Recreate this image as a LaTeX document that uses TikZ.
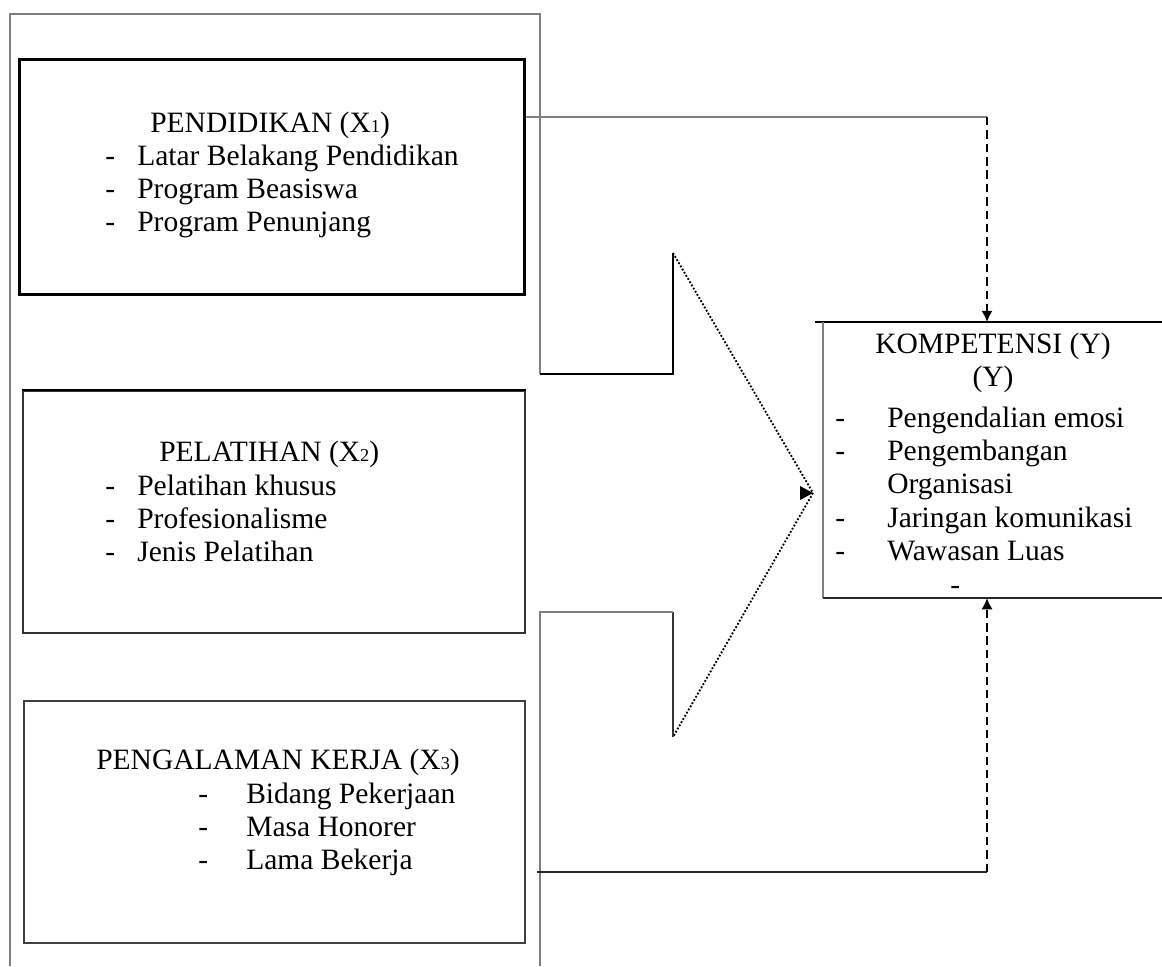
\documentclass[tikz,border=0pt]{standalone}
\usepackage{fontspec}
\setmainfont{Liberation Serif}
\usetikzlibrary{positioning,arrows.meta}

\newcommand{\varidx}[1]{{\fontsize{13}{13}\selectfont #1}}
\newcommand{\itemline}[2]{\makebox[#1][l]{-}#2}

\begin{document}
\begin{tikzpicture}[x=0.025cm, y=-0.025cm,
		box/.style={rectangle, draw=black!80, line width=1.4pt, anchor=north west, inner sep=0pt},
		title/.style={anchor=base west, inner sep=0pt, font=\fontsize{21}{23.8}\selectfont},
		items/.style={anchor=base west, inner sep=0pt, font=\fontsize{21}{23.8}\selectfont},
		frame/.style={draw=black!50, line width=1.1pt},
		link/.style={draw=black, line width=1.4pt, dash pattern=on 6pt off 3.5pt, -{Latex[length=8pt, width=8pt]}},
		dots/.style={draw=black, line width=1.3pt, dash pattern=on 1.3pt off 1.3pt}
]
\useasboundingbox (0,0) rectangle (1162,966);

% outer frame and the big arrow
\coordinate (uptop) at (673,253);
\coordinate (tip) at (813,493);
\coordinate (lowbot) at (673,737);
\draw[frame] (10,966) -- (10,14) -- (540,14) -- (540,374);
\draw[black, line width=1.5pt] (540,374) -- (673,374) -- (uptop);
\draw[dots] (uptop) -- (tip) -- (lowbot);
\draw[black!80, line width=1.5pt] (lowbot) -- (673,612);
\draw[frame] (673,612) -- (540,612) -- (540,966);
\fill (tip) -- ++(-13,-7) -- ++(0,14) -- cycle;

% variable boxes
\node[box, line width=2.1pt, draw=black, minimum width=12.625cm, minimum height=5.875cm] (pend) at (18,58) {};
\node[box, minimum width=12.55cm, minimum height=6.05cm] (latih) at (22,390) {};
\draw[black, line width=2.1pt] (latih.north west) -- (latih.north east);
\node[box, draw=black!75, minimum width=12.525cm, minimum height=6.05cm] (kerja) at (23,700) {};

\node[title] (pendtitle) at (150,132) {PENDIDIKAN (X\varidx{1})};
\node[items] (pendlist) at (105,165) {\begin{tabular}[t]{@{}l@{}}
	\itemline{0.8cm}{Latar Belakang Pendidikan}\\
	\itemline{0.8cm}{Program Beasiswa}\\
	\itemline{0.8cm}{Program Penunjang}
\end{tabular}};

\node[title] (latihtitle) at (159,461) {PELATIHAN (X\varidx{2})};
\node[items] (latihlist) at (105,495) {\begin{tabular}[t]{@{}l@{}}
	\itemline{0.8cm}{Pelatihan khusus}\\
	\itemline{0.8cm}{Profesionalisme}\\
	\itemline{0.8cm}{Jenis Pelatihan}
\end{tabular}};

\node[title] (kerjatitle) at (96,769) {PENGALAMAN KERJA (X\varidx{3})};
\node[items] (kerjalist) at (198,803) {\begin{tabular}[t]{@{}l@{}}
	\itemline{1.2cm}{Bidang Pekerjaan}\\
	\itemline{1.2cm}{Masa Honorer}\\
	\itemline{1.2cm}{Lama Bekerja}
\end{tabular}};

% dependent variable
\node[box, draw=none, minimum width=8.8cm, minimum height=6.85cm] (komp) at (823,322) {};
\draw[black, line width=2.1pt] ([xshift=-6pt]komp.north west) -- (komp.north east);
\draw[black!50, line width=1.1pt] (komp.north west) -- (komp.south west);
\draw[black!85, line width=1.4pt] (komp.south west) -- (komp.south east);

\node[title, anchor=base] (komptitle) at (993,353) {\begin{tabular}[t]{@{}c@{}}
	KOMPETENSI (Y)\\
	(Y)
\end{tabular}};
\node[items] (komplist) at (835,427) {\begin{tabular}[t]{@{}l@{}}
	\itemline{1.3cm}{Pengendalian emosi}\\
	\itemline{1.3cm}{Pengembangan}\\
	\makebox[1.3cm][l]{}Organisasi\\
	\itemline{1.3cm}{Jaringan komunikasi}\\
	\itemline{1.3cm}{Wawasan Luas}\\
	\hspace{2.875cm}-
\end{tabular}};

% connectors to the dependent variable
\coordinate (topturn) at (987,117);
\coordinate (lowstart) at (537,872);
\coordinate (lowturn) at (987,872);
\draw[frame] (pend.east |- topturn) -- (topturn);
\draw[link] (topturn) -- (komp.north -| topturn);
\draw[black!85, line width=1.4pt] (lowstart) -- (lowturn);
\draw[link] (lowturn) -- (komp.south -| lowturn);

\end{tikzpicture}
\end{document}
